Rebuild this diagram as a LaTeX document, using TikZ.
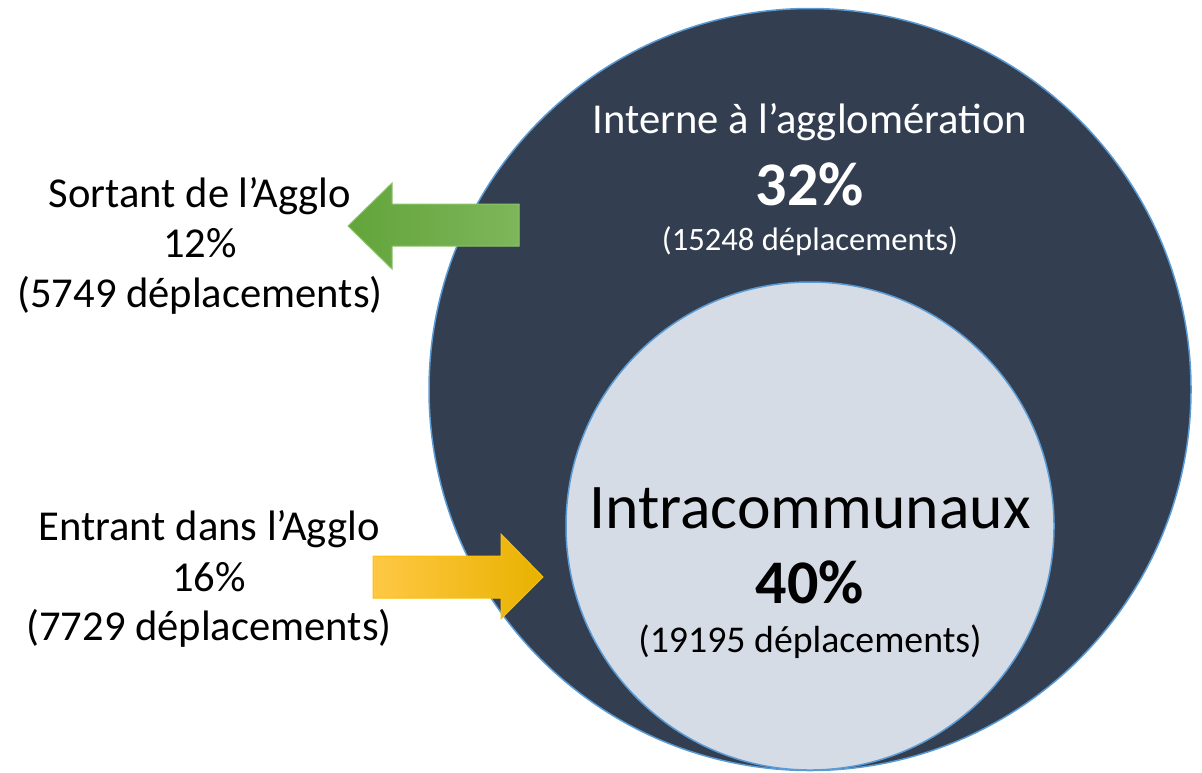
\documentclass[tikz,border=0pt]{standalone}
\usepackage{fontspec}
\setmainfont{Carlito}
\usetikzlibrary{positioning}

\definecolor{darkzone}{HTML}{333F50}
\definecolor{lightzone}{HTML}{D6DCE5}
\definecolor{rimblue}{HTML}{5B9BD5}
\definecolor{grnL}{HTML}{62A43A}
\definecolor{grnR}{HTML}{7EB65B}
\definecolor{grnE}{HTML}{8CC46C}
\definecolor{ylwL}{HTML}{FFC845}
\definecolor{ylwM}{HTML}{FFC000}
\definecolor{ylwR}{HTML}{E8B200}

\tikzset{
  zone/.style={circle, line width=0.75pt, draw=rimblue, inner sep=0pt},
  lbl/.style={anchor=base, font=\fontsize{21.3}{25}\selectfont},
  bignum/.style={anchor=base, font=\fontsize{31}{36}\selectfont\bfseries},
  smalltxt/.style={anchor=base, font=\fontsize{16.3}{19}\selectfont},
}

\begin{document}
\begin{tikzpicture}[x=0.5pt, y=-0.5pt]

		\useasboundingbox (0,0) rectangle (1202,772);

		% the two zones
		\node[zone, fill=darkzone, minimum size=381pt](agglo) at (810,389.5){};
		\node[zone, fill=lightzone, minimum size=244pt](commune) at (810,526){};

		% arrows
		\shadedraw[left color=grnL, right color=grnR, draw=grnE, line width=0.5pt] (519,204) -- (392,204) -- (392,183) -- (348,226) -- (392,269) -- (392,246) -- (519,246) -- cycle;
		\shadedraw[left color=ylwL, middle color=ylwM, right color=ylwR, draw=ylwM, line width=0.5pt] (373,556) -- (501,556) -- (501,534) -- (543,577) -- (501,619) -- (501,598) -- (373,598) -- cycle;

		% texts in the zones
		\node[lbl, text=white](internetitle) at (810,133){Interne à l’agglomération};
		\node[bignum, text=white](internepct) at (810,205){32\%};
		\node[smalltxt, text=white](internenb) at (810,250){(15248 déplacements)};

		\node[lbl, font=\fontsize{31.8}{36}\selectfont](intratitle) at (810,528){Intracommunaux};
		\node[bignum](intrapct) at (810,603){40\%};
		\node[smalltxt, font=\fontsize{18.9}{22}\selectfont](intranb) at (810,652){(19195 déplacements)};

		% texts on the left
		\node[lbl](sorttitle) at (200,207){Sortant de l’Agglo};
		\node[lbl](sortpct) at (200,257){12\%};
		\node[lbl](sortnb) at (200,307){(5749 déplacements)};

		\node[lbl](entrtitle) at (209,540){Entrant dans l’Agglo};
		\node[lbl](entrpct) at (209,591){16\%};
		\node[lbl](entrnb) at (209,640){(7729 déplacements)};

	\end{tikzpicture}
\end{document}
